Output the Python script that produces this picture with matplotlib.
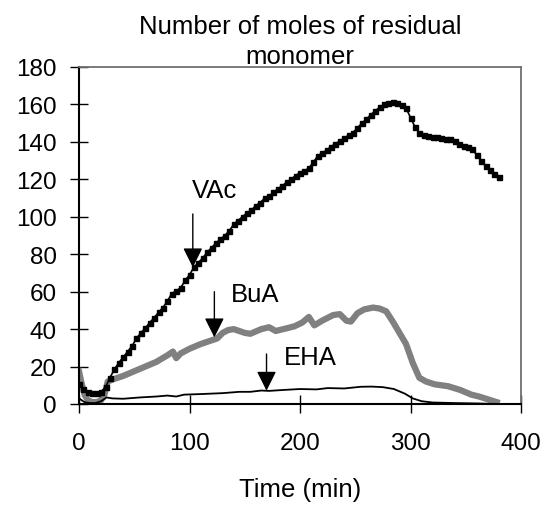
import matplotlib
matplotlib.use('Agg')
import matplotlib.pyplot as plt
import numpy as np

plt.rcParams['font.family'] = ['Liberation Sans', 'DejaVu Sans']

# ── Data ──────────────────────────────────────────────────
vac_t = list(range(0, 381, 4))
vac_v = [10.5, 8, 6.5, 6, 6, 6.5, 9, 14, 18.5, 22,
         25, 28, 31, 35, 38, 40.5, 43.5, 46, 49, 51.5,
         55, 59, 60.5, 62, 66, 69, 73, 75.5, 78, 81,
         83.5, 86, 88, 90, 92.5, 96, 98, 100, 102, 103.5,
         106, 107.5, 110, 111, 113, 115, 116.5, 118.5, 120, 122,
         123.5, 124.5, 126, 129, 132.5, 134, 135.5, 137.5, 139, 140.5,
         142, 143.5, 145, 147.5, 150, 152, 154.5, 156.5, 158.5, 160,
         161, 161.5, 161, 159.5, 158, 153, 148, 145, 143.5, 143,
         142.5, 142.5, 142, 141.5, 141.5, 140.5, 139, 138, 137.5, 136,
         133, 130, 127, 125, 123, 121]

bua_t = [0, 2, 5, 8, 12, 16, 20, 23, 26, 30, 40, 50, 60, 70, 80, 85, 88, 92,
         100, 110, 120, 125, 130, 135, 140, 145, 150, 155, 165, 172, 178, 185,
         195, 202, 208, 213, 220, 230, 236, 242, 246, 252, 258, 266, 272, 278,
         284, 290, 296, 302, 308, 314, 322, 334, 345, 355, 362, 370, 378]
bua_v = [17.5, 12, 5, 2, 1, 1, 2, 5, 12, 13, 15, 17.5, 20, 22.5, 26, 28, 24.5, 27,
         29.5, 32, 34, 35, 38, 39.5, 40, 39, 38, 37.5, 40, 41, 39, 40,
         41.5, 43.5, 46.5, 42, 44.5, 47.5, 48, 44.5, 44, 48.5, 50.5, 51.5, 51, 49.5,
         44, 38, 32, 22, 14, 12, 10.5, 9.5, 7.5, 5, 4, 2.5, 1]

eha_t = [0, 5, 10, 15, 20, 25, 30, 40, 55, 70, 80, 88, 95, 110, 130, 145, 155,
         165, 172, 185, 200, 215, 225, 240, 255, 265, 275, 285, 295, 302, 310,
         320, 340, 360, 378]
eha_v = [3, 1, 0.5, 0.5, 1.5, 3.5, 3, 2.8, 3.5, 4, 4.5, 4, 5, 5.3, 5.8, 6.5, 6.5,
         7.2, 7, 7.5, 8, 7.8, 8.5, 8.3, 9.2, 9.3, 9, 8, 5.5, 3, 1.5,
         0.8, 0.5, 0.3, 0]

labels = ['VAc', 'BuA', 'EHA']
label_xy = [(123, 110.5), (159.5, 55.2), (209.6, 21.4)]
arrow_from = [(103, 101.5), (122.5, 60), (169.7, 26.7)]
arrow_to = [(103, 73), (122.5, 35.6), (169.7, 7.1)]

# ── Figure ────────────────────────────────────────────────
fig = plt.figure(figsize=(5.52, 5.06), dpi=100)
ax = fig.add_axes([79 / 552, 101 / 506, 442 / 552, 337 / 506])

ax.plot(bua_t, bua_v, color='#808080', lw=4.5, solid_joinstyle='round')
ax.plot(eha_t, eha_v, color='black', lw=1.3)
ax.plot(vac_t, vac_v, color='black', lw=1.2, marker='s', ms=3.6)

for lab, (tx, ty), (x0, y0), (x1, y1) in zip(labels, label_xy, arrow_from, arrow_to):
    ax.text(tx, ty, lab, ha='center', va='baseline', fontsize=18.5)
    ax.annotate('', xy=(x1, y1), xytext=(x0, y0),
                arrowprops=dict(arrowstyle='-|>,head_length=0.4,head_width=0.2',
                                mutation_scale=30, color='black', lw=1,
                                shrinkA=0, shrinkB=0))

ax.set_xlim(0, 400)
ax.set_ylim(0, 180)
ax.set_xticks(np.arange(0, 401, 100))
ax.set_yticks(np.arange(0, 181, 20))
ax.tick_params(axis='both', direction='inout', length=13, width=1,
               labelsize=17.5, color='black')
ax.tick_params(axis='y', pad=9.5)
ax.tick_params(axis='x', pad=14)

for s in ['left', 'bottom']:
    ax.spines[s].set_color('black')
    ax.spines[s].set_linewidth(1.5)
for s in ['top', 'right']:
    ax.spines[s].set_color('#707070')
    ax.spines[s].set_linewidth(1.3)

ax.set_xlabel('Time (min)', fontsize=18.5, labelpad=16)
ax.text(0.5, 1.012, 'Number of moles of residual\nmonomer',
        transform=ax.transAxes, ha='center', va='baseline',
        fontsize=18.5, linespacing=1.3)

fig.savefig('out.png', dpi=100, facecolor='white')
